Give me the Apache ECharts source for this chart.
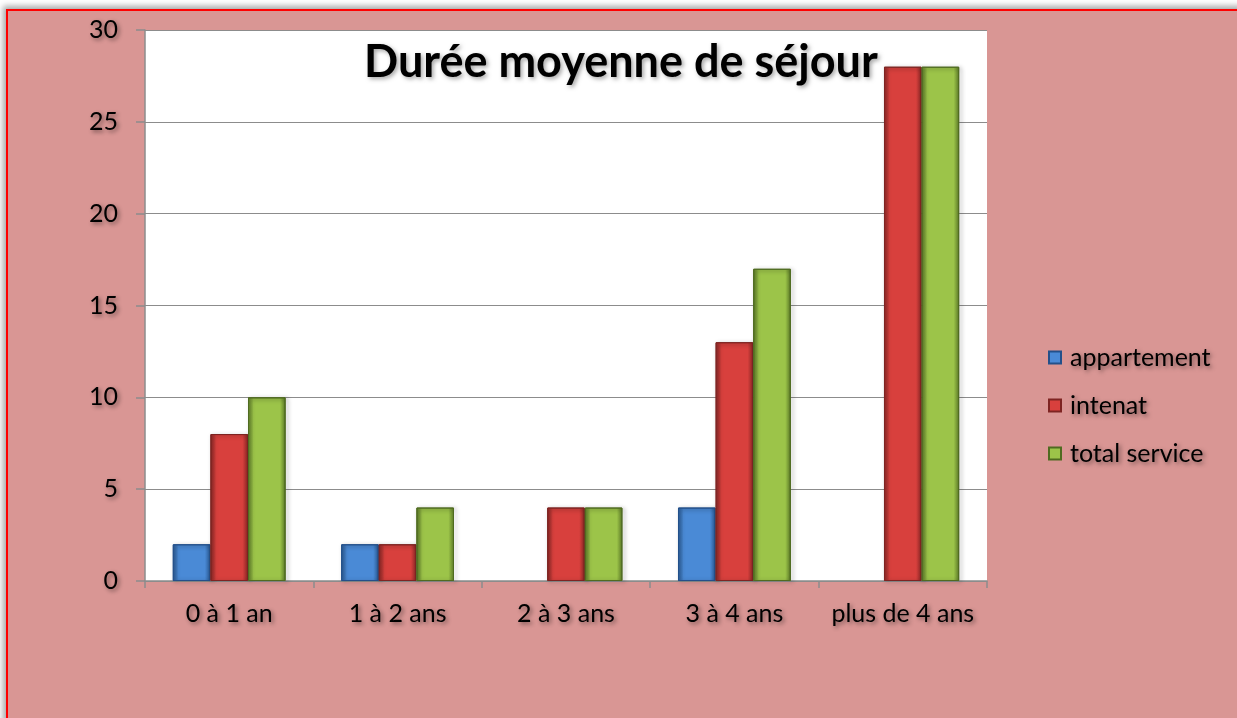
<!DOCTYPE html>
<html>
<head>
<meta charset="utf-8">
<script src="https://cdn.jsdelivr.net/npm/echarts@6/dist/echarts.min.js"></script>
<style>
  html, body { margin: 0; padding: 0; background: #fff; overflow: hidden; }
  #frame {
    position: absolute; left: 6px; top: 9px; width: 1240px; height: 720px;
    background: #D99694; border: 2px solid #f00; box-shadow: -3px -3px 6px rgba(0,0,0,0.35);
  }
  #main { position: absolute; left: 0; top: 0; width: 1237px; height: 718px; }
</style>
</head>
<body>
<div id="frame"></div>
<div id="main"></div>
<script>
// données
var categories = ['0 à 1 an', '1 à 2 ans', '2 à 3 ans', '3 à 4 ans', 'plus de 4 ans'];
var appartement = [2, 2, 0, 4, 0];
var intenat = [8, 2, 4, 13, 28];
var totalService = [10, 4, 4, 17, 28];
var seriesNames = ['appartement', 'intenat', 'total service'];

// dégradé "biseau" façon Excel
function bevel(edge, mid) {
	return new echarts.graphic.LinearGradient(0, 0, 1, 0, [
		{ offset: 0, color: edge },
		{ offset: 0.15, color: mid },
		{ offset: 0.85, color: mid },
		{ offset: 1, color: edge }
	]);
}

var shadowText = {
	color: '#000',
	textShadowColor: 'rgba(0,0,0,0.45)',
	textShadowBlur: 4,
	textShadowOffsetX: 2,
	textShadowOffsetY: 2
};

function barSerie(name, data, edge, mid, border) {
	return {
		name: name,
		type: 'bar',
		// une valeur nulle ne dessine rien (comme dans Excel)
		data: data.map(function(v) {
			return v === 0 ? { value: 0, itemStyle: { borderWidth: 0, shadowBlur: 0, opacity: 0 } } : v;
		}),
		barGap: 0,
		barCategoryGap: '33%',
		itemStyle: {
			color: bevel(edge, mid),
			borderColor: border,
			borderWidth: 1,
			shadowColor: 'rgba(0,0,0,0.4)',
			shadowBlur: 4,
			shadowOffsetX: 2,
			shadowOffsetY: 1
		}
	};
}

var chart = echarts.init(document.getElementById('main'));
chart.setOption({
	backgroundColor: 'transparent',
	textStyle: { fontFamily: 'Lato' },
	title: {
		text: 'Durée moyenne de séjour',
		left: 359,
		top: 35,
		textStyle: Object.assign({}, shadowText, {
			fontSize: 45,
			fontWeight: 'bold',
			fontFamily: 'Lato',
			textShadowColor: 'rgba(0,0,0,0.35)'
		})
	},
	legend: {
		orient: 'vertical',
		left: 1043,
		top: 340,
		itemWidth: 12,
		itemHeight: 12,
		itemGap: 23,
		icon: 'rect',
		data: seriesNames,
		textStyle: Object.assign({}, shadowText, { fontSize: 25, lineHeight: 24, fontFamily: 'Lato', padding: [0, 0, 0, 4] })
	},
	grid: { left: 145, top: 30, right: 250, bottom: 137, backgroundColor: '#fff', show: true, borderWidth: 0 },
	xAxis: {
		type: 'category',
		data: categories,
		axisLine: { lineStyle: { color: '#8c8c8c', width: 1.5 } },
		axisTick: { show: true, length: 7, lineStyle: { color: '#8c8c8c', width: 1.5 } },
		axisLabel: Object.assign({}, shadowText, { fontSize: 25, margin: 20, interval: 0, fontFamily: 'Lato' })
	},
	yAxis: {
		type: 'value',
		min: 0,
		max: 30,
		interval: 5,
		axisLine: { show: true, lineStyle: { color: '#8c8c8c', width: 1.5 } },
		axisTick: { show: true, length: 9, lineStyle: { color: '#8c8c8c', width: 1.5 } },
		splitLine: { lineStyle: { color: '#8c8c8c', width: 1.2 } },
		axisLabel: Object.assign({}, shadowText, { fontSize: 25, margin: 27, fontFamily: 'Lato' })
	},
	series: [
		barSerie(seriesNames[0], appartement, '#2a5a94', '#4a8ad6', '#23508a'),
		barSerie(seriesNames[1], intenat, '#8c2826', '#d8403d', '#7e2422'),
		barSerie(seriesNames[2], totalService, '#5d7b28', '#9cc449', '#4f6b20')
	],
	color: ['#4a8ad6', '#d8403d', '#9cc449']
});
</script>
</body>
</html>
